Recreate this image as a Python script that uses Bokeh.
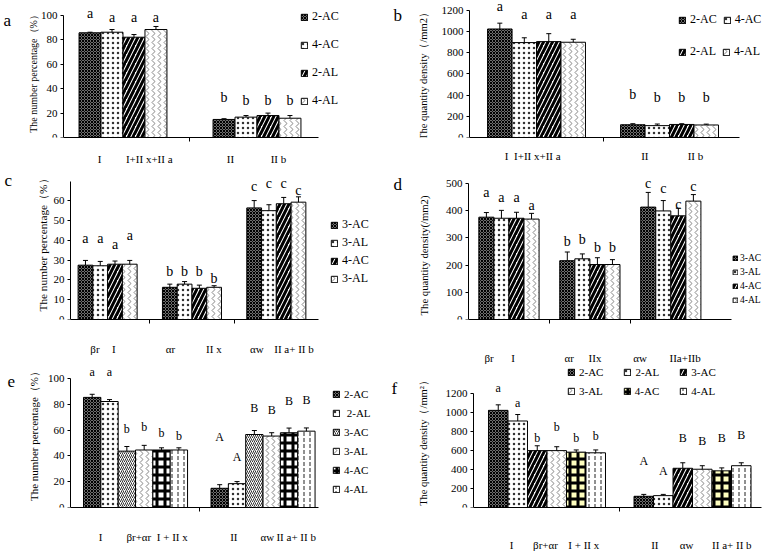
from bokeh.plotting import figure
from bokeh.models import (ColumnDataSource, Range1d, FixedTicker, Whisker, TeeHead,
                          LabelSet, Label, Legend, LegendItem)
from bokeh.layouts import column, row
from bokeh.core.properties import value
from bokeh.embed import file_html
from bokeh.resources import INLINE

SERIF = "Liberation Serif"

# ---------------- data ----------------
# panel a
a_series = ["2-AC", "4-AC", "2-AL", "4-AL"]
a_xlabels = ["I", "I+II x+II a", "II", "II b"]
a_means = [[85.8, 14.8], [86.3, 16.7], [82.2, 18.0], [88.5, 15.8]]
a_errs = [[0.5, 0.6], [2.2, 1.3], [2.2, 2.0], [2.5, 2.2]]
a_letters = [["a", "b"], ["a", "b"], ["a", "b"], ["a", "b"]]
a_letter_y = [[101.5, 33], [98, 30], [98, 30], [98, 30]]
a_yticks = [0, 20, 40, 60, 80, 100]

# panel b
b_series = ["2-AC", "4-AC", "2-AL", "4-AL"]
b_xlabels = ["I", "I+II x+II a", "II", "II b"]
b_means = [[1023, 120], [895, 112], [904, 123], [898, 118]]
b_errs = [[55, 10], [45, 15], [75, 7], [28, 8]]
b_letters = [["a", "b"], ["a", "b"], ["a", "b"], ["a", "b"]]
b_letter_y = [[1235, 406], [1163, 375], [1163, 375], [1163, 375]]
b_yticks = [0, 200, 400, 600, 800, 1000, 1200]

# panel c
c_series = ["3-AC", "3-AL", "4-AC", "3-AL"]
c_xlabels = ["βr", "I", "αr", "II x", "αw", "II a+ II b"]
c_means = [[27.5, 16.3, 56.5], [27.2, 17.9, 55.1], [28.0, 15.8, 58.6], [28.0, 16.3, 59.4]]
c_errs = [[2.4, 1.6, 3.7], [2.2, 1.3, 3.0], [1.6, 1.6, 3.2], [1.9, 0.8, 2.7]]
c_letters = [["a", "b", "c"], ["a", "b", "c"], ["a", "b", "c"], ["a", "b", "c"]]
c_letter_y = [[41, 24.5, 67.2], [41, 24.5, 68.8], [37.8, 24.5, 68.8], [42.6, 21, 65.5]]
c_yticks = [0, 10, 20, 30, 40, 50, 60]

# panel d
d_series = ["3-AC", "3-AL", "4-AC", "4-AL"]
d_xlabels = ["βr", "I", "αr", "IIx", "αw", "IIa+IIb"]
d_means = [[376, 216, 413], [372, 223, 399], [372, 202, 381], [369, 202, 435]]
d_errs = [[17, 32, 54], [29, 18, 38], [22, 25, 28], [21, 18, 24]]
d_letters = [["a", "b", "c"], ["a", "b", "c"], ["a", "b", "c"], ["a", "b", "c"]]
d_letter_y = [[465, 287, 500], [447, 294, 480], [447, 266, 423], [418, 266, 488]]
d_yticks = [0, 100, 200, 300, 400, 500]

# panel e
e_series = ["2-AC", " 2-AL", "3-AC", "3-AL", "4-AC", "4-AL"]
e_xlabels = ["I", "βr+αr", "I + II x", "II", "αw", "II a+ II b"]
e_means = [[85.4, 14.9], [82.2, 18.5], [43.7, 56.6], [44.6, 55.4], [44.6, 58.0], [44.6, 59.2]]
e_errs = [[2.4, 2.8], [1.5, 1.6], [3.6, 3.1], [3.6, 2.6], [1.7, 3.6], [1.7, 2.5]]
e_letters = [["a", "A"], ["a", "A"], ["b", "B"], ["b", "B"], ["b", "B"], ["b", "B"]]
e_letter_y = [[105.3, 54.4], [105, 39.3], [61, 77], [62.6, 75.8], [57.8, 82.5], [55.4, 83.7]]
e_yticks = [0, 20, 40, 60, 80, 100]

# panel f
f_series = ["2-AC", "2-AL", "3-AC", "3-AL", "4-AC", "4-AL"]
f_xlabels = ["I", "βr+αr", "I + II x", "II", "αw", "II a+ II b"]
f_means = [[1023, 118], [911, 125], [599, 413], [599, 403], [583, 386], [576, 440]]
f_errs = [[58, 20], [68, 13], [51, 58], [41, 37], [23, 31], [30, 31]]
f_letters = [["a", "A"], ["a", "A"], ["b", "B"], ["b", "B"], ["b", "B"], ["b", "B"]]
f_letter_y = [[1258, 485], [1096, 383], [732, 732], [844, 699], [732, 732], [750, 766]]
f_yticks = [0, 200, 400, 600, 800, 1000, 1200]

# ---------------- fill patterns ----------------
STYLES = {
    "dark": dict(fill_color="#6e6e6e", hatch_pattern="diagonal_cross", hatch_color="black",
                 hatch_weight=1, hatch_scale=3),
    "dots": dict(fill_color="white", hatch_pattern="dot", hatch_color="#333333",
                 hatch_weight=1, hatch_scale=5),
    "diag": dict(fill_color="white", hatch_pattern="right_diagonal_line", hatch_color="black",
                 hatch_weight=3, hatch_scale=9),
    "diag_thin": dict(fill_color="white", hatch_pattern="right_diagonal_line", hatch_color="#333333",
                      hatch_weight=1, hatch_scale=4),
    "chev": dict(fill_color="white", hatch_pattern="vertical_wave", hatch_color="#666666",
                 hatch_weight=0.8, hatch_scale=6),
    "check": dict(fill_color="white", hatch_pattern="cross", hatch_color="black",
                  hatch_weight=3, hatch_scale=8),
    "check_y": dict(fill_color="#ffffc0", hatch_pattern="cross", hatch_color="black",
                    hatch_weight=3, hatch_scale=8),
    "vdash": dict(fill_color="white", hatch_pattern="vertical_dash", hatch_color="#222222",
                  hatch_weight=1, hatch_scale=6),
}


def make_panel(series, styles, means, errs, letters, letter_y, xlabels, xlabel_x, bounds,
               yticks, ymax, geo, look, legends, tag, ytitle):
    # geo: panel origin, panel height, axis left/right x, y of 0, y of ymax, x data at axis ends
    ox, oy, H, ax_l, ax_r, y0, ytop, xr = geo
    bar_w, letter_size, xlabel_standoff, legend_font, gsize, gstand = look
    W = 381
    pxx = (ax_r - ax_l) / (xr[1] - xr[0])
    pxy = (y0 - ytop) / ymax
    x_start = xr[0] - (ax_l - ox) / pxx
    x_end = xr[0] + (ox + W - ax_l) / pxx
    y_end = (y0 - oy) / pxy
    fb = y0
    bottom = int(round(oy + H - y0))
    p = figure(width=W, height=H, output_backend="svg", toolbar_location=None,
               x_range=Range1d(x_start, x_end), y_range=Range1d(0, y_end), title=None,
               min_border_left=0, min_border_right=0, min_border_top=0,
               min_border_bottom=bottom)
    p.xgrid.visible = False
    p.ygrid.visible = False
    p.outline_line_color = None
    p.background_fill_color = "white"
    p.border_fill_color = "white"

    n = len(series)
    ng = len(means[0])
    rends = []
    for i in range(n):
        off = (i - (n - 1) / 2) * bar_w
        xs = [g + off for g in range(ng)]
        src = ColumnDataSource(dict(x=xs, top=means[i],
                                    up=[m + e for m, e in zip(means[i], errs[i])],
                                    let=letters[i], ly=letter_y[i]))
        r = p.vbar(x="x", top="top", bottom=0, width=bar_w, source=src,
                   line_color="black", line_width=1, **STYLES[styles[i]])
        rends.append(r)
        p.add_layout(Whisker(source=src, base="x", lower="top", upper="up", dimension="height",
                             line_color="black", line_width=1, level="overlay",
                             upper_head=TeeHead(size=5, line_color="black", line_width=1),
                             lower_head=None))
        p.add_layout(LabelSet(source=src, x="x", y="ly", text="let", text_align="center",
                              text_baseline="middle", text_font=value(SERIF),
                              text_font_size=value(letter_size), text_color=value("black")))

    xa = p.xaxis[0]
    xa.bounds = (xr[0], xr[1])
    xa.ticker = FixedTicker(ticks=xlabel_x, minor_ticks=bounds)
    xa.major_label_overrides = {x: t for x, t in zip(xlabel_x, xlabels)}
    xa.major_tick_line_color = None
    xa.major_tick_out = 0
    xa.major_tick_in = 0
    xa.minor_tick_out = 4
    xa.minor_tick_in = 0
    xa.minor_tick_line_color = "black"
    xa.major_label_standoff = xlabel_standoff
    xa.major_label_text_font = SERIF
    xa.major_label_text_font_size = "11px"
    xa.major_label_text_color = "black"
    xa.axis_line_color = "black"

    ya = p.yaxis[0]
    ya.bounds = (0, ymax)
    ya.fixed_location = xr[0]
    ya.ticker = FixedTicker(ticks=yticks)
    ya.major_tick_out = 3
    ya.major_tick_in = 0
    ya.minor_tick_line_color = None
    ya.major_label_standoff = 3
    ya.major_label_text_font = SERIF
    ya.major_label_text_font_size = "11px"
    ya.major_label_text_color = "black"
    ya.axis_line_color = "black"

    for idxs, orient, lx, lb, spacing in legends:
        items = [LegendItem(label=series[j], renderers=[rends[j]]) for j in idxs]
        lg = Legend(items=items, location=(int(round(lx - ox)), int(round(fb - lb))),
                    orientation=orient, padding=0, margin=0, spacing=int(spacing),
                    glyph_width=gsize, glyph_height=gsize,
                    label_standoff=gstand, label_height=gsize, label_text_font=SERIF,
                    label_text_font_size=legend_font, label_text_color="black",
                    border_line_color=None, background_fill_alpha=0)
        p.add_layout(lg)

    # panel letter
    p.add_layout(Label(x=tag[1] - ox, y=fb - tag[2], x_units="screen", y_units="screen",
                       text=tag[0], text_font=SERIF, text_font_size="17px",
                       text_baseline="middle", text_align="left", text_color="black"))
    # y-axis title (rotated)
    text, tx, ty, tfont, tsize = ytitle
    p.add_layout(Label(x=tx - ox, y=fb - ty, x_units="screen", y_units="screen",
                       text=text, text_font=tfont, text_font_size=tsize, angle=90,
                       angle_units="deg", text_baseline="middle", text_align="center",
                       text_color="black"))
    return p


pa = make_panel(a_series, ["dark", "dots", "diag", "chev"], a_means, a_errs, a_letters, a_letter_y,
                a_xlabels, [-0.175, 0.196, 0.802, 1.16], [0.5], a_yticks, 100,
                (0, 0, 172, 63, 318, 137, 15, (-0.444, 1.459)),
                (0.164, "14px", 11, "12px", 8, 4),
                [(range(4), "vertical", 300, 108, 13)], ("a", 3, 20),
                ("The number percentage（%）", 33, 71, SERIF, "10px"))

pb = make_panel(b_series, ["dark", "dots", "diag", "chev"], b_means, b_errs, b_letters, b_letter_y,
                b_xlabels, [-0.226, 0.006, 0.814, 1.195], [0.5], b_yticks, 1200,
                (381, 0, 172, 469, 739, 141, 10, (-0.504, 1.526)),
                (0.184, "14px", 8, "12px", 8, 4),
                [([0, 1], "horizontal", 678, 31, 6), ([2, 3], "horizontal", 678, 63, 6)],
                ("b", 393, 19), ("The quantity density（/mm2）", 423, 77, SERIF, "10.5px"))

pc = make_panel(c_series, ["dark", "dots", "diag", "chev"], c_means, c_errs, c_letters, c_letter_y,
                c_xlabels, [-0.15, 0.075, 0.745, 1.26, 1.77, 2.21], [0.5, 1.5], c_yticks, 70,
                (0, 172, 194, 70, 318, 327, 181.2, (-0.44, 2.50)),
                (0.175, "14px", 19, "12px", 8, 4),
                [(range(4), "vertical", 330, 294, 3)], ("c", 4, 188),
                ("The number percentage（%）", 42, 250, SERIF, "11.3px"))

pd_ = make_panel(d_series, ["dark", "dots", "diag", "chev"], d_means, d_errs, d_letters, d_letter_y,
                 d_xlabels, [-0.245, 0.052, 0.745, 1.063, 1.62, 2.177], [0.5, 1.5], d_yticks, 500,
                 (381, 172, 194, 468, 731, 324, 183.3, (-0.50, 2.75)),
                 (0.186, "14px", 28, "9.5px", 6, 2),
                 [(range(4), "vertical", 732, 310, 4)], ("d", 393, 189),
                 ("The quantity density(/mm2)", 423, 260, SERIF, "10.7px"))

pe = make_panel(e_series, ["dark", "dots", "diag_thin", "chev", "check", "vdash"], e_means, e_errs,
                e_letters, e_letter_y, e_xlabels, [-0.275, 0.026, 0.288, 0.771, 1.033, 1.26], [0.5],
                e_yticks, 100, (0, 366, 187, 70, 318, 518, 379, (-0.51, 1.435)),
                (0.136, "12px", 19, "11px", 8, 4),
                [(range(6), "vertical", 332, 506, 7)], ("e", 7, 392),
                ("The number percentage（%）", 33, 444, SERIF, "11px"))

pf = make_panel(f_series, ["dark", "dots", "diag", "chev", "check_y", "vdash"], f_means, f_errs,
                f_letters, f_letter_y, f_xlabels, [-0.244, -0.01, 0.253, 0.741, 0.96, 1.27], [0.5],
                f_yticks, 1200, (381, 366, 187, 473, 761, 512, 394, (-0.505, 1.474)),
                (0.134, "12px", 27, "11px", 8, 4),
                [([0, 1, 2], "horizontal", 567, 383, 20), ([3, 4, 5], "horizontal", 567, 402, 20)],
                ("f", 391, 393), ("The quantity density（/mm²）", 423, 445, SERIF, "10.5px"))

layout = column(row(pa, pb, spacing=0), row(pc, pd_, spacing=0), row(pe, pf, spacing=0),
                spacing=0)

open("out.html", "w").write(file_html(layout, INLINE))
